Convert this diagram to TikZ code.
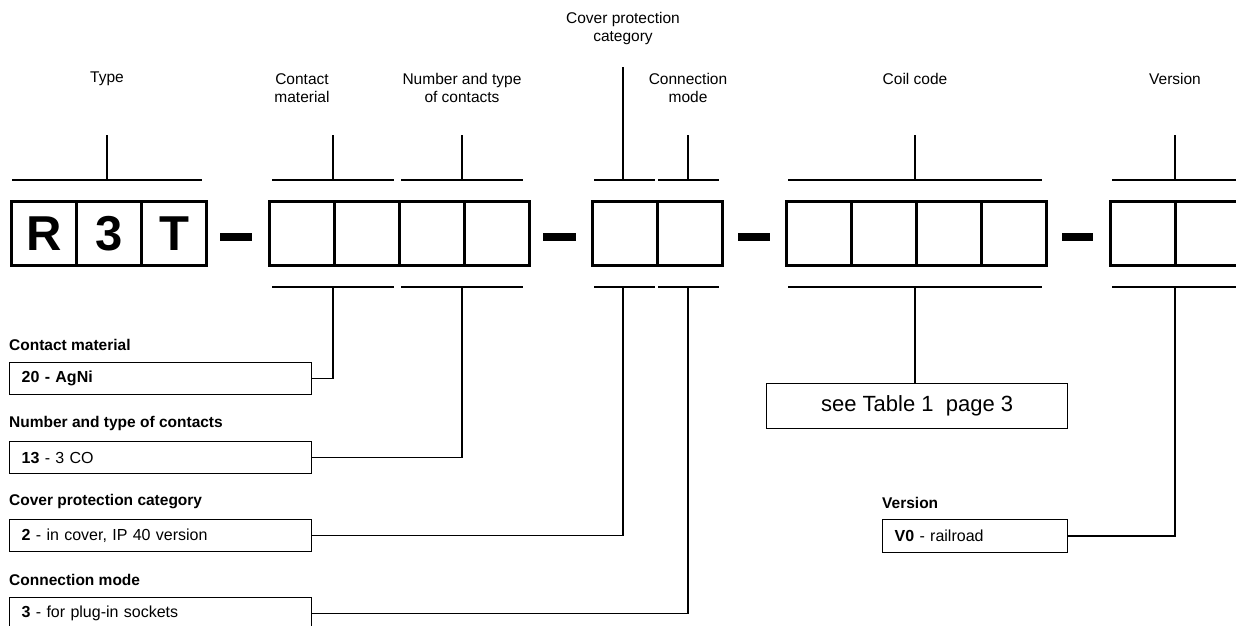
\documentclass[tikz,border=0pt]{standalone}
\usepackage{fontspec}
\setmainfont{Liberation Sans}
\usetikzlibrary{positioning}
\tikzset{
	cell/.style={draw, line width=3.3pt, minimum width=65pt, minimum height=64pt, inner sep=0pt, anchor=west, font=\fontsize{49}{49}\selectfont\bfseries},
	brace/.style={line width=2pt},
	link/.style={line width=1.4pt},
	bar/.style={line width=7.5pt},
	caption/.style={align=center, font=\fontsize{15.5}{18}\selectfont},
	head/.style={anchor=west, inner sep=0pt, font=\fontsize{15.5}{18}\selectfont\bfseries},
	codebox/.style={draw, line width=1.3pt, anchor=north west, align=left, text width=278pt, inner xsep=12pt, inner ysep=0pt, minimum height=32pt, font=\fontsize{16}{18}\selectfont},
}

\begin{document}
\begin{tikzpicture}[x=1pt, y=-1pt]
			%%%%% START %%%%%
			\clip (0, 0) rectangle (1236, 625);
			
			\foreach \x/\t in {10/R, 75/3, 140/T}
				\node[cell] at (\x, 233.5) {\t};
			\foreach \x in {268, 333, 398, 463, 591, 656, 785, 850, 915, 980, 1109, 1174}
				\node[cell] at (\x, 233.5) {};
			
			\draw[bar] (220, 237) -- (252, 237);
			\draw[bar] (543, 237) -- (576, 237);
			\draw[bar] (738, 237) -- (770, 237);
			\draw[bar] (1062, 237) -- (1093, 237);
			
			\node[caption] (type) at (107, 79) {Type};
			\node[caption] (mat) at (302, 88) {Contact\\material};
			\node[caption] (num) at (462, 88) {Number and type\\of contacts};
			\node[caption] (cov) at (623, 28) {Cover protection\\category};
			\node[caption] (con) at (688, 88) {Connection\\mode};
			\node[caption] (coil) at (915, 79) {Coil code};
			\node[caption] (ver) at (1175, 79) {Version};
			
			\draw[brace] (12, 180) -- (202, 180);
			\draw[brace] (272, 180) -- (394, 180);
			\draw[brace] (401, 180) -- (523, 180);
			\draw[brace] (594, 180) -- (655, 180);
			\draw[brace] (658, 180) -- (719, 180);
			\draw[brace] (788, 180) -- (1042, 180);
			\draw[brace] (1112, 180) -- (1245, 180);
			
			\draw[brace] (107, 135) -- (107, 180);
			\draw[brace] (333, 135) -- (333, 180);
			\draw[brace] (462, 135) -- (462, 180);
			\draw[brace] (623, 67) -- (623, 180);
			\draw[brace] (688, 135) -- (688, 180);
			\draw[brace] (915, 135) -- (915, 180);
			\draw[brace] (1175, 135) -- (1175, 180);
			
			\draw[brace] (272, 287) -- (394, 287);
			\draw[brace] (401, 287) -- (523, 287);
			\draw[brace] (594, 287) -- (655, 287);
			\draw[brace] (658, 287) -- (719, 287);
			\draw[brace] (788, 287) -- (1042, 287);
			\draw[brace] (1112, 287) -- (1245, 287);
			
			\coordinate (bmat) at (333, 287);
			\coordinate (bnum) at (462, 287);
			\coordinate (bcov) at (623, 287);
			\coordinate (bcon) at (688, 287);
			\coordinate (bcoil) at (915, 287);
			\coordinate (bver) at (1175, 287);
			
			\node[head] at (9, 345) {Contact material};
			\node[codebox] (mbox) at (9, 362) {\textbf{20 - AgNi}};
			\node[head] at (9, 423) {Number and type of contacts};
			\node[codebox] (nbox) at (9, 441) {\textbf{13} - 3 CO};
			\node[head] at (9, 502) {Cover protection category};
			\node[codebox] (cbox) at (9, 519) {\textbf{2} - in cover, IP 40 version};
			\node[head] at (9, 580) {Connection mode};
			\node[codebox] (kbox) at (9, 597) {\textbf{3} - for plug-in sockets};
			
			\node[draw, line width=1.3pt, anchor=north west, minimum width=301pt, minimum height=45pt, font=\fontsize{22}{24}\selectfont] (tbox) at (766, 383) {see Table 1~ page 3};
			\node[head] at (882, 503) {Version};
			\node[codebox, text width=161pt, minimum height=33pt] (vbox) at (882, 519) {\textbf{V0} - railroad};
			
			\draw[link] (mbox.east) -| (bmat);
			\draw[link] (nbox.east) -| (bnum);
			\draw[link] (cbox.east) -| (bcov);
			\draw[link] (kbox.east) -| (bcon);
			\draw[link] (bcoil) -- (bcoil |- tbox.north);
			\draw[link] (vbox.east) -| (bver);
			
			%%%%% END %%%%%
\end{tikzpicture}
\end{document}
